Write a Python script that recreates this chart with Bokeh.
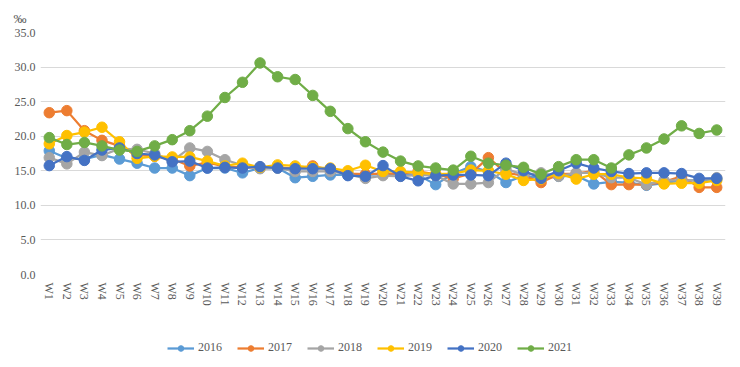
from bokeh.plotting import figure
from bokeh.layouts import column
from bokeh.models import FactorRange, Legend, LegendItem, NumeralTickFormatter, FixedTicker, Range1d
from bokeh.embed import file_html
from bokeh.resources import INLINE
import math

weeks = [f"W{i}" for i in range(1, 40)]

y2016 = [17.9, 16.8, 16.7, 17.3, 16.7, 16.1, 15.4, 15.4, 14.3, 15.4, 15.4, 14.7, 15.4, 15.4, 14.0, 14.2, 14.4, 14.4, 14.4, 14.5,
         14.5, 14.4, 13.0, 14.6, 15.6, 14.9, 13.3, 14.3, 13.9, 14.2, 14.3, 13.1, 13.4, 13.3, 12.9, 13.2, 13.6, 13.6, 13.8]
y2017 = [23.4, 23.7, 20.8, 19.4, 18.6, 17.3, 17.1, 16.7, 15.7, 16.2, 15.6, 15.5, 15.5, 15.5, 15.3, 15.7, 15.1, 14.6, 14.5, 14.6,
         14.6, 14.9, 14.5, 13.9, 14.6, 16.9, 14.7, 14.3, 13.3, 14.5, 14.6, 15.0, 13.0, 13.0, 13.0, 13.4, 14.2, 12.6, 12.6]
y2018 = [16.9, 16.0, 17.7, 17.2, 18.2, 18.1, 17.5, 16.4, 18.3, 17.8, 16.6, 15.8, 15.3, 15.4, 14.9, 14.9, 14.9, 14.5, 13.9, 14.3,
         14.2, 14.4, 14.3, 13.1, 13.1, 13.3, 15.3, 14.4, 14.7, 14.2, 14.7, 14.7, 14.0, 14.0, 13.0, 13.6, 13.6, 13.6, 14.0]
y2019 = [18.9, 20.1, 20.6, 21.3, 19.2, 16.8, 17.1, 17.0, 17.0, 16.4, 15.7, 16.1, 15.5, 15.85, 15.7, 15.5, 15.4, 15.0, 15.8, 14.9,
         14.9, 14.7, 14.5, 14.6, 15.1, 15.0, 14.5, 13.6, 13.8, 14.6, 13.8, 14.5, 14.5, 14.0, 13.9, 13.1, 13.2, 13.2, 13.6]
y2020 = [15.75, 17.05, 16.5, 18.0, 18.3, 17.5, 17.3, 16.3, 16.4, 15.4, 15.5, 15.4, 15.6, 15.4, 15.3, 15.3, 15.3, 14.3, 14.2, 15.75,
         14.2, 13.55, 14.3, 14.4, 14.4, 14.3, 16.1, 15.0, 13.9, 15.0, 16.1, 15.4, 14.9, 14.6, 14.7, 14.7, 14.6, 13.9, 13.9]
y2021 = [19.8, 18.8, 19.1, 18.6, 18.0, 17.8, 18.6, 19.5, 20.8, 22.9, 25.6, 27.8, 30.6, 28.6, 28.2, 25.9, 23.6, 21.1, 19.2, 17.7,
         16.4, 15.7, 15.4, 15.1, 17.1, 16.1, 15.8, 15.5, 14.5, 15.6, 16.6, 16.6, 15.4, 17.3, 18.3, 19.6, 21.5, 20.4, 20.9]

series_names = ["2016", "2017", "2018", "2019", "2020", "2021"]
series_values = [y2016, y2017, y2018, y2019, y2020, y2021]
colors = ["#5B9BD5", "#ED7D31", "#A5A5A5", "#FFC000", "#4472C4", "#70AD47"]
y_ticks = [0, 5, 10, 15, 20, 25, 30, 35]

FONT = "Times New Roman"
GRAY = "#595959"

p = figure(width=730, height=310, x_range=FactorRange(*weeks, range_padding=0),
           y_range=(0, 35), output_backend="svg", toolbar_location=None,
           min_border_left=40, min_border_right=5, min_border_top=32, min_border_bottom=36)
p.outline_line_color = None
p.background_fill_color = "white"
p.border_fill_color = "white"

p.title.text = "‰"
p.title.text_font = FONT
p.title.text_font_size = "13px"
p.title.text_font_style = "normal"
p.title.text_color = GRAY
p.title.align = "left"
p.title.offset = -27
p.title.standoff = 14

p.xgrid.grid_line_color = None
p.ygrid.grid_line_color = "#D9D9D9"
p.ygrid.grid_line_width = 1

p.yaxis.ticker = FixedTicker(ticks=y_ticks)
p.yaxis.formatter = NumeralTickFormatter(format="0.0")
for ax in (p.xaxis[0], p.yaxis[0]):
    ax.axis_line_color = None
    ax.major_tick_line_color = None
    ax.minor_tick_line_color = None
    ax.major_tick_out = 0
    ax.major_tick_in = 0
    ax.minor_tick_out = 0
    ax.major_label_text_font = FONT
    ax.major_label_text_font_size = "12px"
    ax.major_label_text_color = GRAY
p.yaxis.major_label_standoff = 5
p.xaxis.major_label_orientation = -math.pi / 2
p.xaxis.major_label_standoff = 8

for name, vals, c in zip(series_names, series_values, colors):
    p.line(weeks, vals, line_color=c, line_width=2.25)
    p.scatter(weeks, vals, size=10.5, fill_color=c, line_color=c, marker="circle")

# legend strip (separate figure so the legend is not clipped by the chart frame);
# its renderers reuse the series but lie outside its visible y range
lg = figure(width=730, height=52, output_backend="svg", toolbar_location=None,
            x_axis_location=None, y_axis_location=None,
            x_range=FactorRange(*weeks), y_range=Range1d(100, 101),
            min_border_left=0, min_border_right=0, min_border_top=0, min_border_bottom=0)
lg.outline_line_color = None
lg.xgrid.grid_line_color = None
lg.ygrid.grid_line_color = None
items = []
for name, vals, c in zip(series_names, series_values, colors):
    r1 = lg.line(weeks, vals, line_color=c, line_width=2.25)
    r2 = lg.scatter(weeks, vals, size=10.5, fill_color=c, line_color=c, marker="circle")
    items.append(LegendItem(label=name, renderers=[r1, r2]))
legend = Legend(items=items, orientation="horizontal", location=(127, 7),
                label_text_font=FONT, label_text_font_size="12px", label_text_color=GRAY,
                glyph_width=27, glyph_height=14, label_standoff=4, spacing=15,
                padding=4, margin=0, border_line_color=None, background_fill_alpha=0)
lg.add_layout(legend, "center")

layout = column(p, lg, spacing=0)
open("out.html", "w").write(file_html(layout, INLINE))
